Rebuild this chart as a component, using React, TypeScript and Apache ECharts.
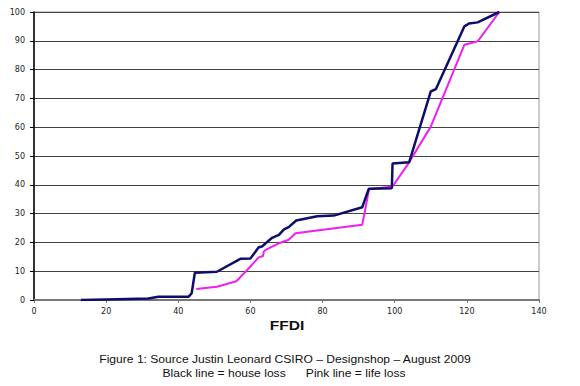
import React, { useEffect, useRef } from "react";
import * as echarts from "echarts";

const houseFFDI = [13, 20, 31.7, 34.5, 42.8, 43.7, 44.6, 50.7, 57.2, 60, 62.3, 63.2, 66, 67.9, 69.3, 70.6, 72.7, 78.5, 83.1, 91, 92.8, 99.2, 99.4, 104, 110, 111.4, 119.3, 120.6, 123, 129];
const houseLoss = [0, 0.2, 0.5, 1.1, 1.1, 2.3, 9.5, 9.8, 14.3, 14.4, 18.3, 18.6, 21.6, 22.6, 24.5, 25.3, 27.6, 29.1, 29.3, 32.2, 38.6, 38.8, 47.4, 47.8, 72.4, 73.2, 95, 96, 96.4, 100];

const lifeFFDI = [45, 50.7, 56.1, 59.1, 62.3, 63.5, 63.7, 64.2, 68.3, 70.6, 72.5, 91, 92.9, 99.4, 104, 110, 119.3, 123, 129];
const lifeLoss = [3.8, 4.6, 6.5, 10.4, 14.8, 15.3, 16.8, 17.4, 19.9, 20.9, 23.2, 26.1, 38.5, 39.4, 47.8, 60.2, 88.6, 89.8, 100];

const xTitle = "FFDI";
const caption1 = "Figure 1: Source Justin Leonard CSIRO \u2013 Designshop \u2013 August 2009";
const caption2 = "Black line = house loss      Pink line = life loss";

export default function App() {
  const ref = useRef<HTMLDivElement>(null);
  useEffect(() => {
    if (!ref.current) return;
    const chart = echarts.init(ref.current, undefined, { renderer: "svg" });
    const labelFont = { fontFamily: "DejaVu Sans", fontSize: 8, color: "#222" };
    chart.setOption({
      animation: false,
      backgroundColor: "#fff",
      grid: {
        left: 34,
        right: 41,
        top: 12,
        bottom: 86,
        show: true,
        borderColor: "#999",
        borderWidth: 1,
      },
      xAxis: {
        type: "value",
        min: 0,
        max: 140,
        interval: 20,
        axisLine: { show: true, lineStyle: { color: "#777", width: 2 } },
        axisTick: { show: true, length: 3, lineStyle: { color: "#777" } },
        axisLabel: { ...labelFont, margin: 7 },
        splitLine: { show: false },
      },
      yAxis: {
        type: "value",
        min: 0,
        max: 100,
        interval: 10,
        axisLine: { show: true, lineStyle: { color: "#000", width: 1.5 } },
        axisTick: { show: true, length: 4, lineStyle: { color: "#000" } },
        axisLabel: { ...labelFont, margin: 9 },
        splitLine: { show: true, lineStyle: { color: "#444", width: 1 } },
      },
      series: [
        {
          name: "life loss",
          type: "line",
          showSymbol: false,
          data: lifeFFDI.map((x, i) => [x, lifeLoss[i]]),
          lineStyle: { color: "#f01ef0", width: 2 },
          itemStyle: { color: "#f01ef0" },
        },
        {
          name: "house loss",
          type: "line",
          showSymbol: false,
          data: houseFFDI.map((x, i) => [x, houseLoss[i]]),
          lineStyle: { color: "#0d0d6b", width: 2.5 },
          itemStyle: { color: "#0d0d6b" },
        },
      ],
      graphic: [
        {
          type: "text",
          x: 287,
          y: 326,
          scaleX: 1.3,
          style: {
            text: xTitle,
            fontFamily: "Liberation Sans",
            fontWeight: "bold",
            fontSize: 12,
            fill: "#111",
            textAlign: "center",
            textVerticalAlign: "middle",
          },
        },
        {
          type: "text",
          x: 285,
          y: 359,
          scaleX: 1.1,
          style: {
            text: caption1,
            fontFamily: "Liberation Sans",
            fontSize: 11,
            fill: "#111",
            textAlign: "center",
            textVerticalAlign: "middle",
          },
        },
        {
          type: "text",
          x: 284,
          y: 373,
          scaleX: 1.1,
          style: {
            text: caption2,
            fontFamily: "Liberation Sans",
            fontSize: 11,
            fill: "#111",
            textAlign: "center",
            textVerticalAlign: "middle",
          },
        },
      ],
    });
    return () => chart.dispose();
  }, []);
  return (
    <div
      ref={ref}
      style={{ position: "fixed", left: 0, top: 0, width: 580, height: 386 }}
    />
  );
}
